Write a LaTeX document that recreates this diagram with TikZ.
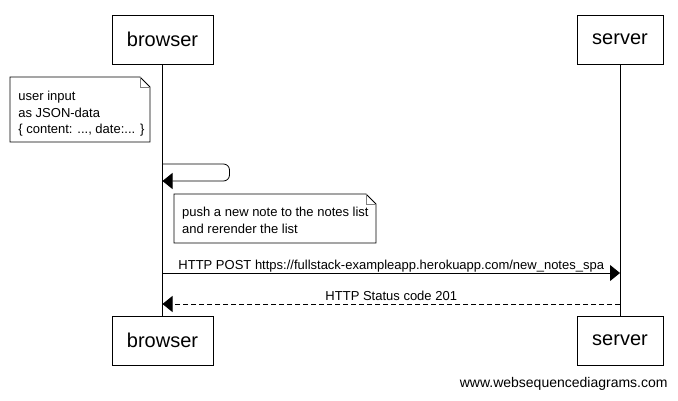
\documentclass[tikz,border=0pt]{standalone}
\usepackage{fontspec}
\setmainfont{Liberation Sans}
\usetikzlibrary{arrows.meta,calc}
\begin{document}
\begin{tikzpicture}[x=1pt,y=-1pt,line width=0.8pt,
  actor/.style={draw,minimum height=49pt,inner sep=0pt,font=\fontsize{20}{24}\selectfont},
  notebox/.style={anchor=north west,inner sep=0pt,minimum width=#1,align=left,font=\fontsize{13}{16.5}\selectfont},
  msg/.style={font=\fontsize{13}{16}\selectfont,inner sep=0pt},
  tip/.style={-{Triangle[length=10pt,width=16pt]}}
]
\useasboundingbox (0,0) rectangle (678,400);
% actors
\node[actor,minimum width=101pt] (bt) at (162.5,39.5) {browser};
\node[actor,minimum width=86pt] (st) at (620,39.5) {server};
\node[actor,minimum width=101pt] (bb) at (162.5,340.5) {browser};
\node[actor,minimum width=86pt] (sb) at (620,340.5) {server};
\draw (bt.south) -- (bb.north);
\draw (st.south) -- (sb.north);
% note 1
\coordinate (n1a) at (10,77);
\coordinate (n1b) at (150,142);
\coordinate (n1f) at (140,77);
\coordinate (n1g) at (150,87);
\fill[white] (n1a) rectangle (n1b);
\draw (n1a) -- (n1f) -- (n1g) -- (n1b) -- (n1a |- n1b) -- cycle;
\draw[gray] (n1f) -- (n1f |- n1g) -- (n1g);
\node[notebox=120pt] (n1) at (18,91) {user input\\as JSON-data\\\{ content: ..., date:... \}};
% self message
\coordinate (s1) at (bt.south |- 0,164);
\coordinate (s2) at (bt.south |- 0,181);
\draw[rounded corners=6pt,tip] (s1) -- ++(67,0) |- (s2);
% note 2
\coordinate (n2a) at (174,194);
\coordinate (n2b) at (376,243);
\coordinate (n2f) at (366,194);
\coordinate (n2g) at (376,204);
\fill[white] (n2a) rectangle (n2b);
\draw (n2a) -- (n2f) -- (n2g) -- (n2b) -- (n2a |- n2b) -- cycle;
\draw[gray] (n2f) -- (n2f |- n2g) -- (n2g);
\node[notebox=190pt] (n2) at (180,207) {push a new note to the notes list\\and rerender the list};
% POST
\coordinate (p1) at (bt.south |- 0,273);
\coordinate (p2) at (st.south |- 0,273);
\draw[tip] (p1) -- (p2);
\node[msg,anchor=base] (pl) at ($(p1)!0.5!(p2)+(0,-4)$) {HTTP POST https://fullstack-exampleapp.herokuapp.com/new\_notes\_spa};
% response
\coordinate (r1) at (st.south |- 0,304);
\coordinate (r2) at (bt.south |- 0,304);
\draw[tip,dash pattern=on 5pt off 3pt] (r1) -- (r2);
\node[msg,anchor=base] (rl) at ($(r1)!0.5!(r2)+(0,-4)$) {HTTP Status code 201};
% watermark
\node[font=\fontsize{14}{16}\selectfont,inner sep=0pt,anchor=east] (wm) at (668,384) {www.websequencediagrams.com};
\end{tikzpicture}
\end{document}
